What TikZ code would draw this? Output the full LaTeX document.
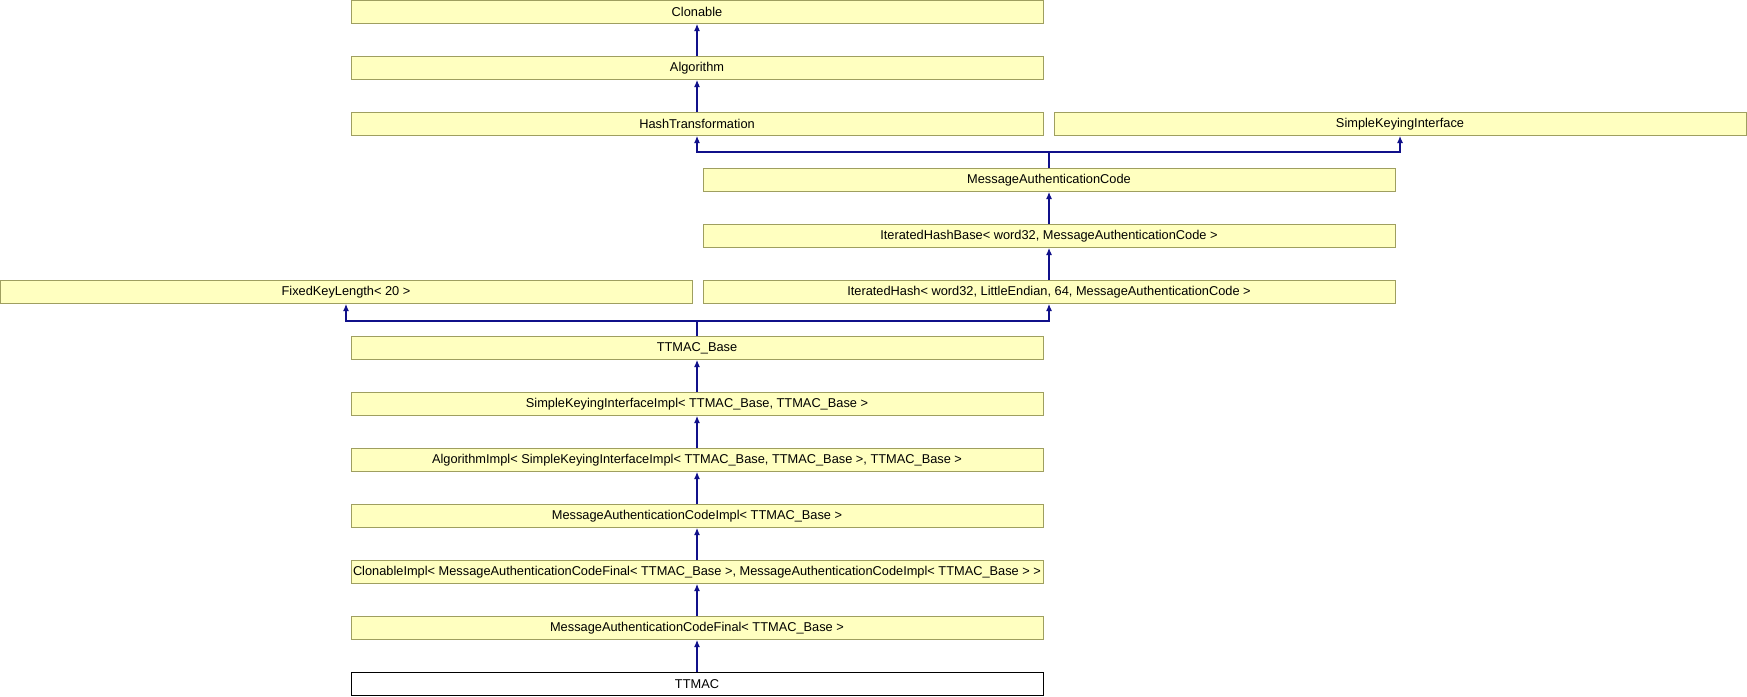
\documentclass[tikz,border=0pt]{standalone}
\usepackage{fontspec}
\setmainfont{Liberation Sans}
\usetikzlibrary{arrows.meta}
\definecolor{boxfill}{HTML}{FFFFC0}
\definecolor{boxline}{HTML}{9F9F60}
\definecolor{arrcol}{HTML}{10108A}
\tikzset{
  cls/.style={draw=boxline, fill=boxfill, line width=1pt, minimum height=23pt, inner sep=0pt, font=\fontsize{12.8}{14}\selectfont, text=black},
  wide/.style={minimum width=692pt},
  cur/.style={draw=black, fill=white, line width=1pt, minimum height=23pt, minimum width=692pt, inner sep=0pt, font=\fontsize{12.8}{14}\selectfont},
  arr/.style={draw=arrcol, line width=1.1pt, -{Latex[length=7pt,width=6pt]}}
}
\begin{document}
\begin{tikzpicture}[x=1pt,y=-1pt]
\useasboundingbox (0,0) rectangle (1747,696);
\node[cls,wide] (clon) at (697,12) {Clonable};
\node[cls,wide] (alg) at (697,68) {Algorithm};
\node[cls,wide] (hash) at (697,124) {HashTransformation};
\node[cls,wide] (ski) at (1400,124) {SimpleKeyingInterface};
\node[cls,wide] (mac) at (1049,180) {MessageAuthenticationCode};
\node[cls,wide] (ihb) at (1049,236) {IteratedHashBase< word32, MessageAuthenticationCode >};
\node[cls,wide] (ih) at (1049,292) {IteratedHash< word32, LittleEndian, 64, MessageAuthenticationCode >};
\node[cls,wide] (fixed) at (346,292) {FixedKeyLength< 20 >};
\node[cls,wide] (base) at (697,348) {TTMAC\_Base};
\node[cls,wide] (skii) at (697,404) {SimpleKeyingInterfaceImpl< TTMAC\_Base, TTMAC\_Base >};
\node[cls,wide] (algi) at (697,460) {AlgorithmImpl< SimpleKeyingInterfaceImpl< TTMAC\_Base, TTMAC\_Base >, TTMAC\_Base >};
\node[cls,wide] (maci) at (697,516) {MessageAuthenticationCodeImpl< TTMAC\_Base >};
\node[cls,wide] (cloni) at (697,572) {ClonableImpl< MessageAuthenticationCodeFinal< TTMAC\_Base >, MessageAuthenticationCodeImpl< TTMAC\_Base > >};
\node[cls,wide] (macf) at (697,628) {MessageAuthenticationCodeFinal< TTMAC\_Base >};
\node[cur] (ttmac) at (697,684) {TTMAC};
\coordinate (j1) at (1049,152);
\coordinate (j2) at (697,321);
\draw[arr] (alg.north) -- (clon.south);
\draw[arr] (hash.north) -- (alg.south);
\draw[arr] (mac.north) -- (j1) -| (hash.south);
\draw[arr] (j1) -| (ski.south);
\draw[arr] (ihb.north) -- (mac.south);
\draw[arr] (ih.north) -- (ihb.south);
\draw[arr] (base.north) -- (j2) -| (fixed.south);
\draw[arr] (j2) -| (ih.south);
\draw[arr] (skii.north) -- (base.south);
\draw[arr] (algi.north) -- (skii.south);
\draw[arr] (maci.north) -- (algi.south);
\draw[arr] (cloni.north) -- (maci.south);
\draw[arr] (macf.north) -- (cloni.south);
\draw[arr] (ttmac.north) -- (macf.south);
\end{tikzpicture}
\end{document}
